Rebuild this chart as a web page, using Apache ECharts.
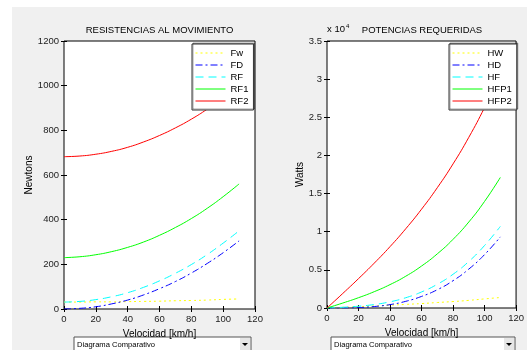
<!DOCTYPE html>
<html>
<head>
<meta charset="utf-8">
<script src="https://cdn.jsdelivr.net/npm/echarts@6/dist/echarts.min.js"></script>
<style>
  html, body { margin: 0; padding: 0; background: #fff; }
  #main { width: 527px; height: 350px; }
</style>
</head>
<body>
<div id="main"></div>
<script>
// velocidad [km/h]
const speeds = [0, 10, 20, 30, 40, 50, 60, 70, 80, 90, 100, 110];

// resistencias [N]
const fw = [31, 31, 32, 32, 33, 34, 35, 37, 38, 40, 43, 45];
const fd = [0, 3, 10, 23, 40, 63, 91, 123, 161, 204, 252, 305];
const rf = [31, 34, 42, 55, 73, 97, 126, 160, 199, 244, 295, 350];
const rf1 = [230, 234, 243, 257, 276, 300, 330, 365, 405, 451, 503, 560];
const rf2 = [682, 685, 693, 706, 724, 748, 777, 811, 850, 895, 946, 1001];

// potencias [W]
const hw = [0, 86, 178, 267, 367, 472, 583, 719, 844, 1000, 1194, 1375];
const hd = [0, 7, 56, 192, 444, 875, 1517, 2392, 3578, 5100, 7000, 9320];
const hf = [0, 94, 233, 458, 811, 1347, 2100, 3111, 4422, 6100, 8194, 10694];
const hfp1 = [0, 650, 1350, 2142, 3067, 4167, 5500, 7097, 9000, 11275, 13972, 17111];
const hfp2 = [0, 1903, 3850, 5883, 8044, 10389, 12950, 15769, 18889, 22375, 26278, 30586];

const leftNames = ["Fw", "FD", "RF", "RF1", "RF2"];
const rightNames = ["HW", "HD", "HF", "HFP1", "HFP2"];
const yTicksLeft = [0, 1200, 200];
const yTicksRight = [0, 35000, 5000];
const xTicks = [0, 120, 20];

const FONT = "Liberation Sans";
const lineDefs = [
  { color: "#ffff00", type: [2, 3] },
  { color: "#0000ff", type: [7, 3, 2, 3] },
  { color: "#00ffff", type: [8, 5] },
  { color: "#00ff00", type: "solid" },
  { color: "#ff0000", type: "solid" }
];

function pairs(arr) {
  return speeds.map((v, i) => [v, arr[i]]);
}

function makeSeries(names, arrays, axisIdx) {
  return names.map((name, i) => ({
    name: name,
    type: "line",
    xAxisIndex: axisIdx,
    yAxisIndex: axisIdx,
    symbol: "none",
    smooth: true,
    silent: true,
    animation: false,
    lineStyle: { color: lineDefs[i].color, type: lineDefs[i].type, width: 1 },
    itemStyle: { color: lineDefs[i].color },
    data: pairs(arrays[i])
  }));
}

const tickStyle = { show: true, inside: true, length: 3, lineStyle: { color: "#000" } };
const labelStyle = { color: "#222", fontSize: 9.5, fontFamily: FONT };

function xAx(grid) {
  return [
    {
      gridIndex: grid, type: "value", position: "bottom",
      min: xTicks[0], max: xTicks[1], interval: xTicks[2],
      axisLine: { show: false }, splitLine: { show: false },
      axisTick: tickStyle,
      axisLabel: Object.assign({ margin: 5, formatter: v => String(v) }, labelStyle),
      name: "Velocidad [km/h]", nameLocation: "middle", nameGap: 16,
      nameTextStyle: { color: "#000", fontSize: 10, fontFamily: FONT }
    },
    {
      gridIndex: grid, type: "value", position: "top",
      min: xTicks[0], max: xTicks[1], interval: xTicks[2],
      axisLine: { show: false }, splitLine: { show: false },
      axisTick: tickStyle, axisLabel: { show: false }
    }
  ];
}

function yAx(grid, ticks, name, gap, fmt) {
  return [
    {
      gridIndex: grid, type: "value", position: "left",
      min: ticks[0], max: ticks[1], interval: ticks[2],
      axisLine: { show: false }, splitLine: { show: false },
      axisTick: tickStyle,
      axisLabel: Object.assign({ margin: 5, formatter: fmt }, labelStyle),
      name: name, nameLocation: "middle", nameGap: gap,
      nameTextStyle: { color: "#000", fontSize: 10, fontFamily: FONT }
    },
    {
      gridIndex: grid, type: "value", position: "right",
      min: ticks[0], max: ticks[1], interval: ticks[2],
      axisLine: { show: false }, splitLine: { show: false },
      axisTick: tickStyle, axisLabel: { show: false }
    }
  ];
}

function legendFor(names, left) {
  return {
    data: names,
    orient: "vertical",
    left: left,
    top: 44,
    itemWidth: 30,
    itemHeight: 10,
    itemGap: 2,
    itemTextGap: 5,
    padding: [4, 5, 4, 3],
    backgroundColor: "#fff",
    borderColor: "#333",
    borderWidth: 1,
    shadowColor: "rgba(0,0,0,0.35)",
    shadowBlur: 0,
    shadowOffsetX: 1,
    shadowOffsetY: -1,
    selectedMode: false,
    itemStyle: { opacity: 0 },
    lineStyle: { width: 1 },
    textStyle: { color: "#000", fontSize: 9.5, fontFamily: FONT }
  };
}

function dropdown(x, w) {
  return [
    { type: "rect", shape: { x: x, y: 337, width: w, height: 16 },
      style: { fill: "#fff", stroke: "#555", lineWidth: 1 } },
    { type: "rect", shape: { x: x + w - 11, y: 338, width: 10, height: 14 },
      style: { fill: "#e6e6e6", stroke: null } },
    { type: "polygon", shape: { points: [[x + w - 9, 343], [x + w - 3, 343], [x + w - 6, 346]] },
      style: { fill: "#000" } },
    { type: "text", x: x + 3, y: 345,
      style: { text: "Diagrama Comparativo", fontSize: 7.6, fontFamily: FONT,
               fill: "#000", textVerticalAlign: "middle" } }
  ];
}

const chart = echarts.init(document.getElementById("main"), null, { renderer: "canvas" });

let option = {
  backgroundColor: "#fff",
  animation: false,
  grid: [
    { left: 64, top: 41, width: 191, height: 268, show: true,
      backgroundColor: "#fff", borderColor: "#000", borderWidth: 1 },
    { left: 327, top: 41, width: 190, height: 267, show: true,
      backgroundColor: "#fff", borderColor: "#000", borderWidth: 1 }
  ],
  xAxis: xAx(0).concat(xAx(1)),
  yAxis: yAx(0, yTicksLeft, "Newtons", 29, v => String(v)).concat(
    yAx(1, yTicksRight, "Watts", 21, v => String(v / 10000))
  ),
  legend: [legendFor(leftNames, 192), legendFor(rightNames, 449)],
  // right-hand series use axis index 2 (second grid)
  series: makeSeries(leftNames, [fw, fd, rf, rf1, rf2], 0).concat(
    makeSeries(rightNames, [hw, hd, hf, hfp1, hfp2], 2)
  ),
  graphic: [
    { type: "rect", z: -10, shape: { x: 12, y: 7, width: 515, height: 343 },
      style: { fill: "#f0f0f0" } },
    { type: "text", x: 159.5, y: 30,
      style: { text: "RESISTENCIAS AL MOVIMIENTO", fontSize: 9.5, fontFamily: FONT,
               fill: "#000", textAlign: "center", textVerticalAlign: "middle" } },
    { type: "text", x: 422, y: 30,
      style: { text: "POTENCIAS REQUERIDAS", fontSize: 9.5, fontFamily: FONT,
               fill: "#000", textAlign: "center", textVerticalAlign: "middle" } },
    { type: "text", x: 327, y: 29,
      style: { text: "x 10{s|4}", fontSize: 9.5, fontFamily: FONT, fill: "#000",
               textVerticalAlign: "middle",
               rich: { s: { fontSize: 6, fontFamily: FONT, verticalAlign: "top", padding: [0, 0, 6, 1] } } } }
  ].concat(dropdown(74, 177), dropdown(331, 184))
};

chart.setOption(option);
</script>
</body>
</html>
